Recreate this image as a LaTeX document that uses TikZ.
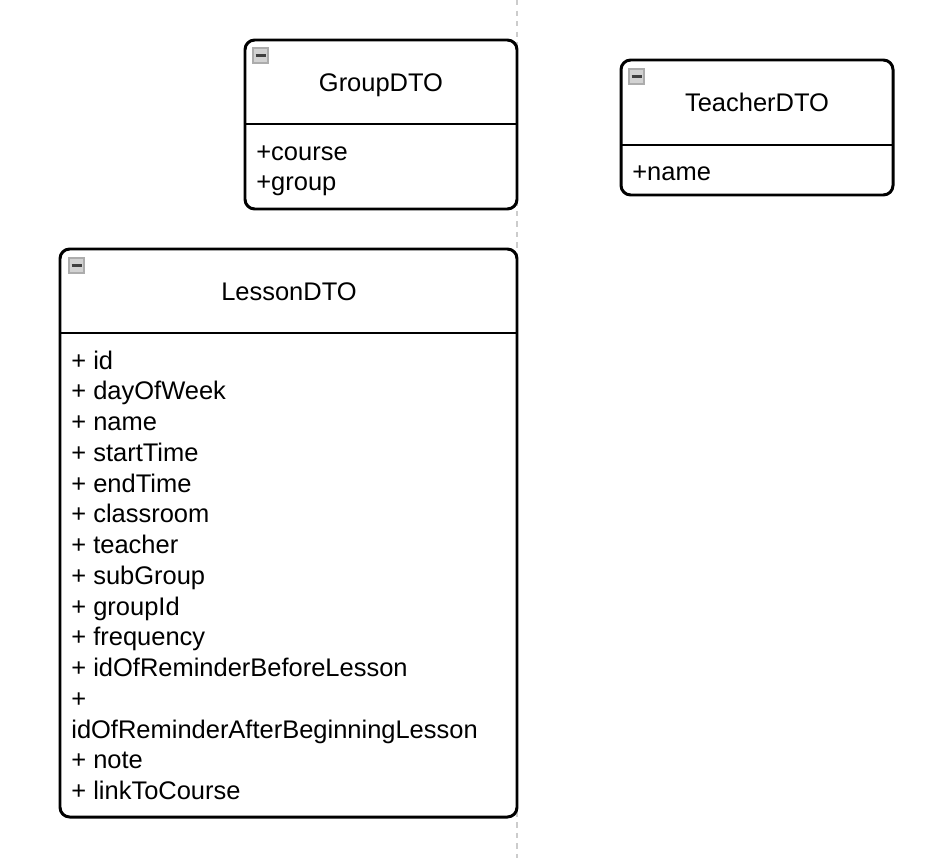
\documentclass[tikz,border=0pt]{standalone}
\usepackage{fontspec}
\setmainfont{Liberation Sans}
\tikzset{
  classbox/.style={line width=1.7pt, rounded corners=5.5pt, fill=white},
  divider/.style={line width=1.7pt},
  title/.style={anchor=base, inner sep=0pt, font=\fontsize{14.5}{17}\selectfont},
  attr/.style={anchor=base west, inner sep=0pt, font=\fontsize{14.5}{17}\selectfont},
  foldicon/.style={fill=gray!35, draw=gray!65, line width=0.6pt},
}

\begin{document}
\begin{tikzpicture}[x=0.02cm,y=-0.02cm]
\useasboundingbox (0,0) rectangle (940,862);
\draw[gray!40, line width=1.1pt, dash pattern=on 3pt off 3pt] (517,0) -- (517,858);

% GroupDTO
\draw[classbox] (245,40) rectangle (517,209);
\draw[divider] (245,124) -- (517,124);
\node[title] (group) at (381,91) {GroupDTO};
\node[attr] (course) at (256,160) {+course};
\node[attr] (grp) at (256,190) {+group};

% TeacherDTO
\draw[classbox] (621,60) rectangle (893,195);
\draw[divider] (621,145) -- (893,145);
\node[title] (teacher) at (757,111) {TeacherDTO};
\node[attr] (tname) at (632,180) {+name};

% LessonDTO
\draw[classbox] (60,249) rectangle (517,817);
\draw[divider] (60,333) -- (517,333);
\node[title] (lesson) at (289,300) {LessonDTO};
\foreach \t [count=\i from 0] in {+ id, + dayOfWeek, + name, + startTime,
    + endTime, + classroom, + teacher, + subGroup, + groupId, + frequency,
    + idOfReminderBeforeLesson, +, idOfReminderAfterBeginningLesson,
    + note, + linkToCourse}
  \node[attr] (l\i) at (71,{369+30.75*\i}) {\t};

% fold icons
\foreach \ix/\iy in {253/48, 629/69, 69/258} {
  \draw[foldicon] (\ix,\iy) rectangle ++(15,15);
  \draw[black!75, line width=1.4pt] (\ix+2.5,\iy+7.5) -- ++(10,0);
}
\end{tikzpicture}
\end{document}
